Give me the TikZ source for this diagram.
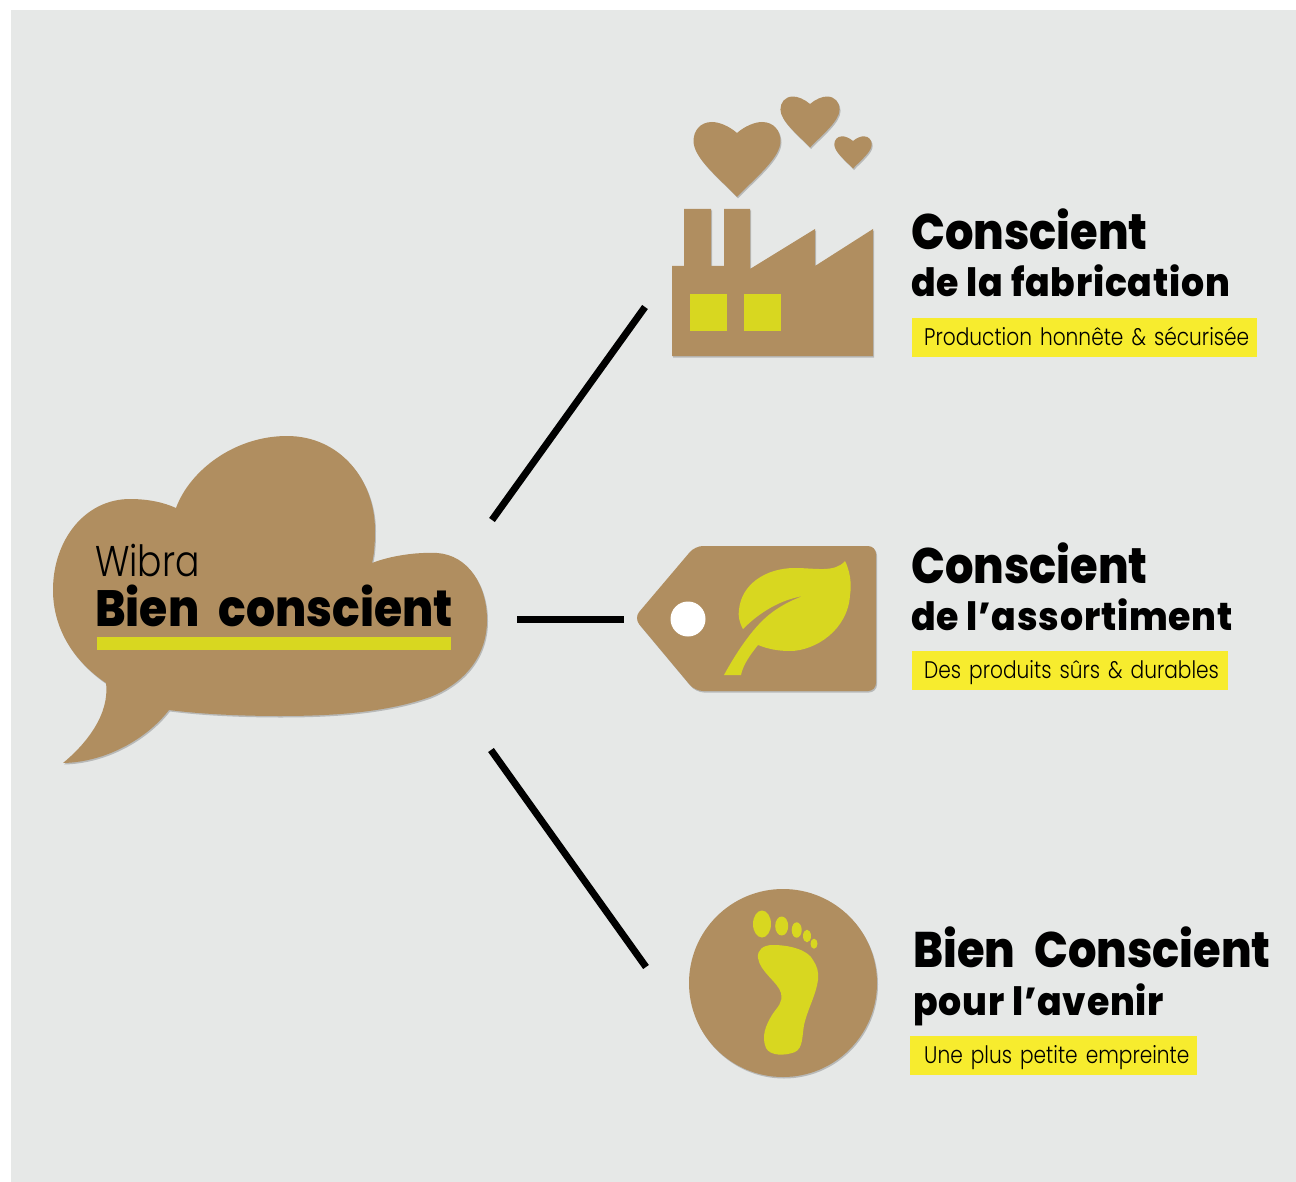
\documentclass[tikz,border=0pt]{standalone}
\usepackage{fontspec}
\newfontfamily\headfont[FakeStretch=0.895, WordSpace=2.2]{Poppins ExtraBold}
\newfontfamily\midfont[FakeStretch=0.93, LetterSpace=2]{Poppins ExtraBold}
\newfontfamily\lightfont[FakeStretch=0.84]{Poppins Light}
\usetikzlibrary{shadows}
\definecolor{kraft}{HTML}{B08E60}
\definecolor{lime}{HTML}{D8D720}
\definecolor{marker}{HTML}{F7EC2E}
\definecolor{backdrop}{HTML}{E6E8E7}
\tikzset{
card/.style={fill=kraft, drop shadow={shadow xshift=1pt, shadow yshift=-1.5pt, opacity=0.2, fill=black}}, % cut-out cardboard
print/.style={fill=lime}, % green ink on the cardboard
spoke/.style={line width=7pt, black}, % thick bars from the bubble
bigline/.style={anchor=base west, inner sep=0pt, font=\headfont\fontsize{50}{50}\selectfont},
midline/.style={anchor=base west, inner sep=0pt, font=\midfont\fontsize{39}{39}\selectfont},
subtag/.style={anchor=north west, fill=marker, inner xsep=12pt, inner ysep=0pt, align=left, text height=27pt, text depth=12pt, font=\lightfont\fontsize{24}{24}\selectfont},
heartshape/.pic={
\path[card] (0,0) .. controls (8,-7) and (18,-11) .. (25,-11) .. controls (37,-11) and (43.5,-2) .. (43.5,8) .. controls (43.5,25) and (18,45) .. (0,64) .. controls (-18,45) and (-43.5,25) .. (-43.5,8) .. controls (-43.5,-2) and (-37,-11) .. (-25,-11) .. controls (-18,-11) and (-8,-7) .. (0,0) -- cycle;
},
}

\begin{document}
\begin{tikzpicture}[x=1pt, y=-1pt]
\useasboundingbox (0,0) rectangle (1296,1182);
\fill[backdrop] (11,10.5) rectangle (1296,1182);

% bubble
\path[card] (176,508) .. controls (190,470) and (235,436) .. (287,436)
 .. controls (340,436) and (375,480) .. (375,530)
 .. controls (375,545) and (374,555) .. (372,563)
 .. controls (390,556) and (415,552) .. (437,553)
 .. controls (468,555) and (487,585) .. (487,620)
 .. controls (487,660) and (460,685) .. (430,697)
 .. controls (385,713) and (330,716) .. (280,716)
 .. controls (240,716) and (200,714) .. (169,710)
 .. controls (150,735) and (110,762) .. (63,763)
 .. controls (85,745) and (110,715) .. (106,683)
 .. controls (75,662) and (53,630) .. (53,590)
 .. controls (53,540) and (85,499) .. (130,499)
 .. controls (147,499) and (163,502) .. (176,508) -- cycle;
\node[anchor=base west, inner sep=0pt, font=\lightfont\fontsize{43}{43}\selectfont] at (95,576) (wibra) {Wibra};
\node[bigline, font=\headfont\fontsize{51}{51}\selectfont] at (95,626) (bien) {Bien conscient};
\fill[lime] (97,637) rectangle (451,650);

% bars
\coordinate (hubA) at (492,520);
\coordinate (endA) at (645,307);
\coordinate (hubB) at (517,619);
\coordinate (endB) at (624,619);
\coordinate (hubC) at (491,750);
\coordinate (endC) at (646,967);
\draw[spoke] (hubA) -- (endA);
\draw[spoke] (hubB) -- (endB);
\draw[spoke] (hubC) -- (endC);

% factory
\pic at (737,133) {heartshape};
\pic[scale=0.68] at (810,104) {heartshape};
\pic[scale=0.43] at (853,141) {heartshape};
\path[card] (672,356) -- (672,266) -- (684,266) -- (684,209) -- (711,209) -- (711,266) -- (724,266) -- (724,209) -- (750,209) -- (750,269) -- (815,229) -- (815,266) -- (873,229) -- (873,356) -- cycle;
\fill[print] (690,294) rectangle (727,331);
\fill[print] (744,294) rectangle (781,331);

% tag
\path[card, rounded corners=8pt] (634,618) -- (695,546) -- (876,546) -- (876,691) -- (695,691) -- cycle;
\node[circle, fill=white, minimum size=35pt, inner sep=0pt] at (688,619) (hole) {};
\fill[print] (724,675) .. controls (735,655) and (752,628) .. (770,614) .. controls (780,606) and (792,600) .. (803,596)
 .. controls (780,600) and (760,612) .. (743,629)
 .. controls (739,622) and (738,615) .. (739,610)
 .. controls (741,585) and (765,568) .. (795,568)
 .. controls (815,568) and (835,573) .. (845,561)
 .. controls (852,575) and (851,590) .. (850,595)
 .. controls (848,630) and (815,651) .. (790,651)
 .. controls (778,651) and (768,649) .. (758,645)
 .. controls (750,655) and (743,665) .. (741,675) -- cycle;

% round one
\path[card] (783,983) circle (94);
\fill[print] (762,924) ellipse (9 and 13.5);
\fill[print] (781.7,926) ellipse (6.5 and 9.5);
\fill[print] (796.7,930) ellipse (5 and 7.7);
\fill[print] (807,936) ellipse (4 and 6.3);
\fill[print] (814,943.7) ellipse (3.5 and 5);
\fill[print] (758,958) .. controls (757,950) and (763,945) .. (773,945)
 .. controls (790,945) and (808,950) .. (813,960)
 .. controls (817,966) and (819,972) .. (818,980)
 .. controls (816,995) and (808,1008) .. (804,1025)
 .. controls (802,1037) and (803,1048) .. (795,1052)
 .. controls (785,1056) and (770,1056) .. (766,1048)
 .. controls (761,1036) and (766,1025) .. (772,1015)
 .. controls (778,1006) and (783,1003) .. (781,993)
 .. controls (778,982) and (760,972) .. (758,958) -- cycle;

% texts
\node[bigline] at (911,250) (headA) {Conscient};
\node[midline] at (911,297) (lineA) {de la fabrication};
\node[subtag, text width=321pt] at (912,318) (tagA) {\mbox{Production honnête \& sécurisée}};

\node[bigline] at (911,583) (headB) {Conscient};
\node[midline] at (911,630) (lineB) {de l’assortiment};
\node[subtag, text width=292pt] at (912,651) (tagB) {\mbox{Des produits sûrs \& durables}};

\node[bigline] at (913,967) (headC) {Bien Conscient};
\node[midline] at (913,1015) (lineC) {pour l’avenir};
\node[subtag, inner xsep=14pt, text width=259pt] at (910,1036) (tagC) {\mbox{Une plus petite empreinte}};

\end{tikzpicture}
\end{document}
